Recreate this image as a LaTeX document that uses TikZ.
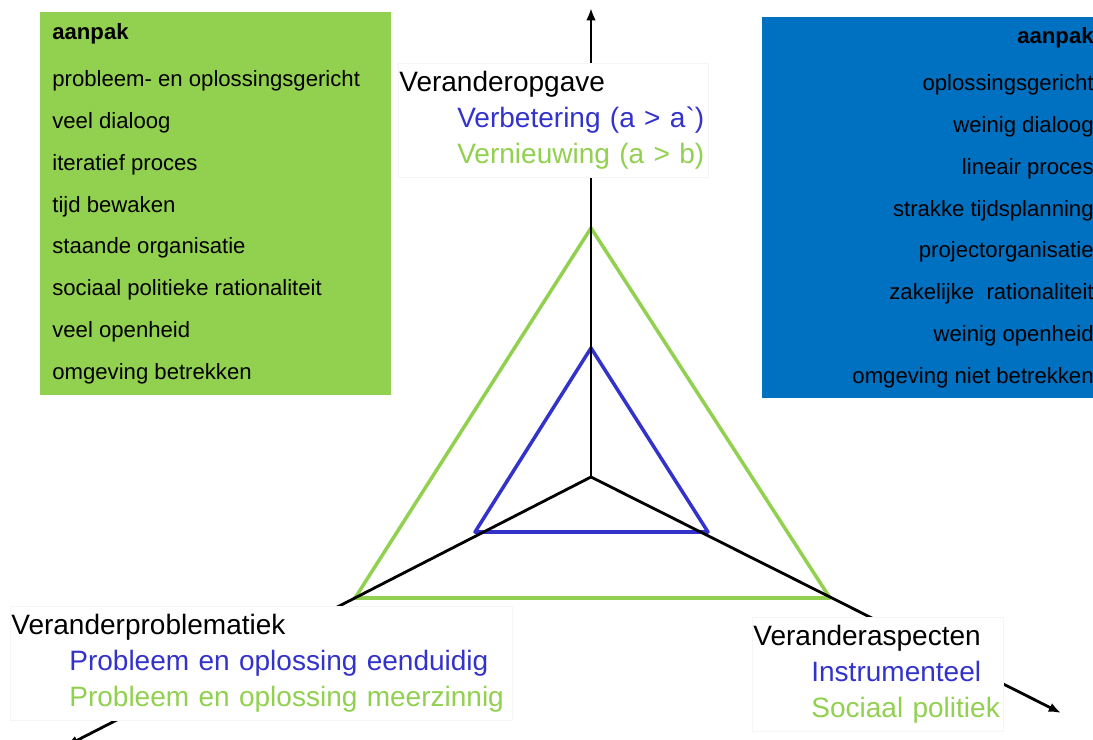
\documentclass[tikz,border=0pt]{standalone}
\usepackage{fontspec}
\setmainfont{Liberation Sans}
\usetikzlibrary{arrows.meta}

\definecolor{lichtgroen}{HTML}{92D050}
\definecolor{donkerblauw}{HTML}{0070C0}
\definecolor{paars}{HTML}{3333CC}

\begin{document}
\begin{tikzpicture}[x=0.02cm,y=-0.02cm,
    as/.style={line width=1.6pt,-{Latex[length=7pt,width=5.5pt]}},
    lijn/.style={line width=2pt,line join=round},
    kader/.style={fill=white,draw=black!4,anchor=north west,align=left,
        inner xsep=0.02cm,inner ysep=0.16cm,
        font=\fontsize{15.95}{20.5}\selectfont},
    regel/.style={inner sep=0pt,font=\fontsize{12.6}{15}\selectfont}]

        % Afmetingen van de figuur
        \useasboundingbox (0,0) rectangle (1093,740);
        \def\inspring{\hspace*{1.16cm}}

        % Kaders met aanpak
        \fill[lichtgroen] (40,12) rectangle (391,395);
        \fill[donkerblauw] (762,17) rectangle (1093,398);

        \node[regel,anchor=mid west] (groentitel) at (52,35) {\textbf{aanpak}};
        \foreach \tekst [count=\i from 0] in {
            probleem- en oplossingsgericht, veel dialoog, iteratief proces,
            tijd bewaken, staande organisatie, sociaal politieke rationaliteit,
            veel openheid, omgeving betrekken}
        {
            \node[regel,anchor=mid west] (groen\i) at (52,{81.7+41.9*\i}) {\tekst};
        }

        \node[regel,anchor=mid east] (blauwtitel) at (1094,39) {\textbf{aanpak}};
        \foreach \tekst [count=\i from 0] in {
            oplossingsgericht, weinig dialoog, lineair proces,
            strakke tijdsplanning, projectorganisatie, zakelijke\ \ rationaliteit,
            weinig openheid, omgeving niet betrekken}
        {
            \node[regel,anchor=mid east] (blauw\i) at (1094,{86+41.8*\i}) {\tekst};
        }

        % Driehoeken
        \foreach \kleur/\top/\basis/\l/\r in {
            lichtgroen/228/598/355/830, paars/348/532/475/708}
        {
            \draw[lijn,\kleur] (591,\top) -- (\r,\basis) -- (\l,\basis) -- cycle;
        }

        % Assen
        \coordinate (O) at (591,477);
        \coordinate (boven) at (591,8);
        \coordinate (links) at (66,746);
        \coordinate (rechts) at (1061,713);
        \foreach \eind in {boven,links,rechts}
            \draw[as] (O) -- (\eind);

        % Onderschriften van de assen
        \node[kader,text width=6.16cm] (opgave) at (398,63)
            {Veranderopgave\\
             \inspring\textcolor{paars}{Verbetering (a > a\textasciigrave)}\\
             \inspring\textcolor{lichtgroen}{Vernieuwing (a > b)}};
        \node[kader,text width=10cm] (problematiek) at (10,606)
            {Veranderproblematiek\\
             \inspring\textcolor{paars}{Probleem en oplossing eenduidig}\\
             \inspring\textcolor{lichtgroen}{Probleem en oplossing meerzinnig}};
        \node[kader,text width=4.98cm] (aspecten) at (752,617)
            {Veranderaspecten\\
             \inspring\textcolor{paars}{Instrumenteel}\\
             \inspring\textcolor{lichtgroen}{Sociaal politiek}};
\end{tikzpicture}
\end{document}
